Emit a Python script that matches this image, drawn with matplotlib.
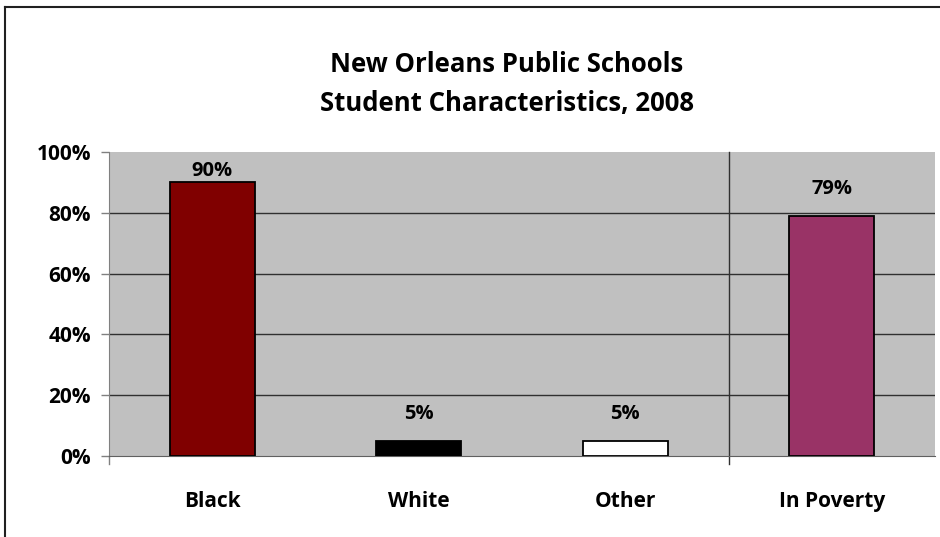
import matplotlib.pyplot as plt
from matplotlib.lines import Line2D

# Chart data
categories = ['Black', 'White', 'Other', 'In Poverty']
values = [90, 5, 5, 79]
bar_colors = ['#800000', '#000000', '#FFFFFF', '#993366']
label_offsets = [1, 12, 12, 12]  # points above each bar top
yticks = [0, 20, 40, 60, 80, 100]

plt.rcParams['font.family'] = ['Open Sans', 'DejaVu Sans']
plt.rcParams['font.weight'] = 'bold'

fig = plt.figure(figsize=(9.4, 5.37), dpi=100)
ax = fig.add_axes([109 / 940, 1 - 456 / 537, 826 / 940, 304 / 537])
ax.set_facecolor('#C0C0C0')

x = list(range(len(categories)))
bars = ax.bar(x, values, width=0.41, color=bar_colors,
              edgecolor='black', linewidth=1.3, zorder=3)

for b, v, off in zip(bars, values, label_offsets):
    ax.annotate(f'{v}%', (b.get_x() + b.get_width() / 2, v),
                xytext=(0, off), textcoords='offset points',
                ha='center', va='bottom', fontsize=14.5, fontweight='bold')

ax.set_xlim(-0.5, len(categories) - 0.5)
ax.set_ylim(0, 100)
ax.set_yticks(yticks)
ax.set_yticklabels([f'{t}%' for t in yticks], fontsize=15, fontweight='bold')
ax.set_xticks(x)
ax.set_xticklabels(categories, fontsize=15, fontweight='bold')
ax.tick_params(axis='x', length=0, pad=25)
ax.tick_params(axis='y', direction='out', length=6, width=1, color='#808080', pad=7)

# gridlines
for t in yticks[1:-1]:
    ax.axhline(t, color='#303030', linewidth=1, zorder=1)

# separator between race categories and poverty
ax.plot([2.5, 2.5], [-2.5, 100], color='#303030', linewidth=1,
        clip_on=False, zorder=2)
ax.plot([-0.5, -0.5], [-2.5, 0], color='#808080', linewidth=1,
        clip_on=False, zorder=2)

for s in ['top', 'right']:
    ax.spines[s].set_visible(False)
ax.spines['left'].set_color('#808080')
ax.spines['bottom'].set_color('#606060')

fig.text(507 / 940, 1 - 65 / 537, 'New Orleans Public Schools',
         ha='center', va='center', fontsize=18.5, fontweight='bold')
fig.text(507 / 940, 1 - 103 / 537, 'Student Characteristics, 2008',
         ha='center', va='center', fontsize=18.5, fontweight='bold')

# chart frame (partly cropped in original)
fig.add_artist(Line2D([5 / 940, 5 / 940], [0, 1 - 7 / 537], color='#202020', linewidth=1.5))
fig.add_artist(Line2D([5 / 940, 1], [1 - 7 / 537, 1 - 7 / 537], color='#202020', linewidth=1.5))

fig.savefig('out.png', dpi=100)
